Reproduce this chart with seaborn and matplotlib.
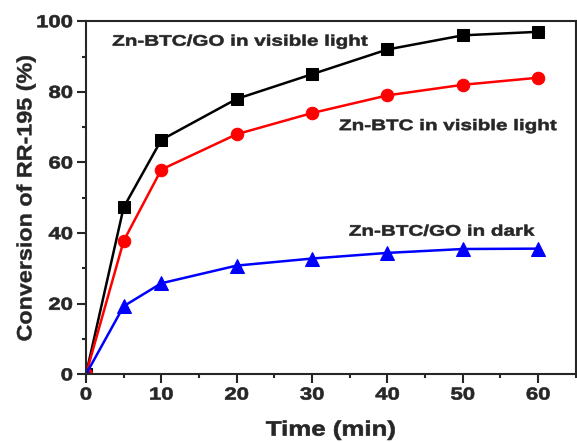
import numpy as np
import pandas as pd
import matplotlib
matplotlib.use("Agg")
import matplotlib.pyplot as plt
import seaborn as sns
from matplotlib.ticker import MultipleLocator
from matplotlib.patheffects import AbstractPathEffect
from matplotlib.transforms import Affine2D

time_min = [0, 5, 10, 20, 30, 40, 50, 60]
go_visible = [0, 47.3, 66.4, 78.0, 85.0, 92.0, 96.0, 97.0]
btc_visible = [0, 37.8, 58.0, 68.0, 74.0, 79.0, 82.0, 84.0]
go_dark = [0, 19.3, 25.8, 30.8, 32.8, 34.4, 35.5, 35.6]

series_names = ["Zn-BTC/GO in visible light", "Zn-BTC in visible light", "Zn-BTC/GO in dark"]

df = pd.DataFrame({
    "time": time_min * 3,
    "conv": go_visible + btc_visible + go_dark,
    "series": [series_names[0]] * 8 + [series_names[1]] * 8 + [series_names[2]] * 8,
})


class Widen(AbstractPathEffect):
    """Draw text glyphs stretched along the text direction, with a thin outline."""

    def __init__(self, sx, anchor="center", stroke=0.5):
        super().__init__()
        self.sx = sx
        self.anchor = anchor
        self.stroke = stroke

    def draw_path(self, renderer, gc, tpath, affine, rgbFace=None):
        ext = tpath.get_extents()
        if self.anchor == "left":
            x0 = ext.x0
        elif self.anchor == "right":
            x0 = ext.x1
        else:
            x0 = 0.5 * (ext.x0 + ext.x1)
        pre = Affine2D().translate(-x0, 0).scale(self.sx, 1).translate(x0, 0)
        gc0 = renderer.new_gc()
        gc0.copy_properties(gc)
        if self.stroke > 0 and rgbFace is not None:
            gc0.set_linewidth(self.stroke)
            gc0.set_foreground(rgbFace)
        renderer.draw_path(gc0, tpath, pre + affine, rgbFace)
        gc0.restore()


sns.set_style("ticks")
plt.rcParams["font.family"] = ["Liberation Sans", "DejaVu Sans"]
plt.rcParams["font.weight"] = "bold"

fig = plt.figure(figsize=(5.77, 4.42), dpi=100)
ax = fig.add_axes([0.149, 0.153, 0.849, 0.799])

styles = {
    series_names[0]: dict(color="black", marker="s", ms=8),
    series_names[1]: dict(color="#ff0000", marker="o", ms=9),
    series_names[2]: dict(color="#0000ff", marker="^", ms=9.5),
}
for name in series_names:
    st = styles[name]
    sns.lineplot(data=df[df["series"] == name], x="time", y="conv", ax=ax,
                 color=st["color"], marker=st["marker"], markersize=st["ms"],
                 markeredgecolor=st["color"], linewidth=1.8, legend=False)

ax.set_xlim(0, 65)
ax.set_ylim(0, 100)
ax.xaxis.set_major_locator(MultipleLocator(10))
ax.xaxis.set_minor_locator(MultipleLocator(5))
ax.yaxis.set_major_locator(MultipleLocator(20))
ax.yaxis.set_minor_locator(MultipleLocator(10))
ax.tick_params(which="major", direction="out", length=6.5, width=1.5, labelsize=12.5, pad=3)
ax.tick_params(which="minor", direction="out", length=3, width=1.5)
for sp in ax.spines.values():
    sp.set_linewidth(1.5)
    sp.set_visible(True)

ax.set_xlabel("Time (min)", fontsize=15, fontweight="bold", labelpad=13)
ax.set_ylabel("Conversion of RR-195 (%)", fontsize=15, fontweight="bold", labelpad=6)
ax.xaxis.label.set_path_effects([Widen(1.24, "center", 0.45)])
ax.yaxis.label.set_path_effects([Widen(1.12, "center", 0.3)])

for x, y, s in [(3.5, 94.2, series_names[0]),
                (33.6, 70.3, series_names[1]),
                (34.9, 40.4, series_names[2])]:
    t = ax.text(x, y, s, fontsize=11, fontweight="bold", va="center", ha="left")
    t.set_path_effects([Widen(1.35, "left", 0.4)])

fig.canvas.draw()
for tk in ax.xaxis.get_major_ticks():
    tk.label1.set_fontweight("bold")
    tk.label1.set_path_effects([Widen(1.27, "center", 0.45)])
for tk in ax.yaxis.get_major_ticks():
    tk.label1.set_fontweight("bold")
    tk.label1.set_path_effects([Widen(1.27, "right", 0.45)])

fig.savefig("out.png", dpi=100)
